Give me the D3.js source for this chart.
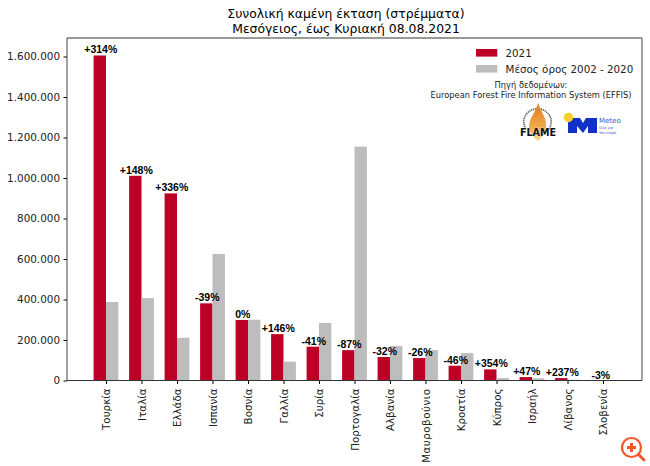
<!DOCTYPE html>
<html>
<head>
<meta charset="utf-8">
<script src="https://cdn.jsdelivr.net/npm/d3@7"></script>
<style>
body { margin: 0; background: #fff; }
text { font-family: "DejaVu Sans", sans-serif; }
</style>
</head>
<body>
<svg id="chart" width="650" height="466"></svg>
<script>
var countries = ["Τουρκία", "Ιταλία", "Ελλάδα", "Ισπανία", "Βοσνία", "Γαλλία", "Συρία", "Πορτογαλία", "Αλβανία", "Μαυροβούνιο", "Κροατία", "Κύπρος", "Ισραήλ", "Λίβανος", "Σλοβενία"]
var burned2021 = [1605000, 1011000, 924000, 381000, 299000, 229000, 167000, 150000, 116000, 111000, 73000, 55000, 17000, 12000, 0]
var burnedMean = [388000, 407000, 211000, 625000, 300000, 93000, 284000, 1155000, 170000, 150000, 135000, 12000, 11000, 3500, 500]
var changeLabels = ["+314%", "+148%", "+336%", "-39%", "0%", "+146%", "-41%", "-87%", "-32%", "-26%", "-46%", "+354%", "+47%", "+237%", "-3%"]
var yTicks = [0, 200000, 400000, 600000, 800000, 1000000, 1200000, 1400000, 1600000]

var dims = { left: 67, right: 642, top: 38, bottom: 380.5 }
var barWidth = 12.4

var svg = d3.select("#chart")

var xScale = d3.scalePoint()
               .domain(countries)
               .range([106, 603])

var yScale = d3.scaleLinear()
               .domain([0, 1600000])
               .range([dims.bottom, 56.5])

function greekNumber(d) {
    return d3.format(",")(d).replace(/,/g, ".")
}

// bars
svg.append("g")
   .selectAll("rect")
   .data(burned2021)
   .enter()
   .append("rect")
   .attr("x", (d, i) => xScale(countries[i]) - barWidth)
   .attr("y", d => yScale(d))
   .attr("width", barWidth)
   .attr("height", d => dims.bottom - yScale(d))
   .attr("fill", "#bd0026")

svg.append("g")
   .selectAll("rect")
   .data(burnedMean)
   .enter()
   .append("rect")
   .attr("x", (d, i) => xScale(countries[i]))
   .attr("y", d => yScale(d))
   .attr("width", barWidth)
   .attr("height", d => dims.bottom - yScale(d))
   .attr("fill", "#bdbdbd")

// percent labels over the red bars
svg.append("g")
   .selectAll("text")
   .data(changeLabels)
   .enter()
   .append("text")
   .attr("x", (d, i) => xScale(countries[i]) - barWidth / 2 + (countries[i] == "Σλοβενία" ? 4 : 1))
   .attr("y", (d, i) => yScale(burned2021[i]) - 2)
   .attr("text-anchor", "middle")
   .attr("font-size", "10.5px")
   .attr("font-weight", "bold")
   .style("font-family", "'Liberation Sans', Arial, sans-serif")
   .attr("fill", "black")
   .text(d => d)

// axes
var xAxis = svg.append("g")
               .attr("transform", `translate(0,${dims.bottom})`)
               .call(d3.axisBottom(xScale).tickSize(3.5).tickPadding(4))

xAxis.selectAll("text")
     .attr("transform", "rotate(-90)")
     .attr("text-anchor", "end")
     .attr("x", -8)
     .attr("y", 0)
     .attr("dy", "0.35em")
     .attr("font-size", "10.3px")
     .attr("fill", "#222")
     .style("letter-spacing", d => d == "Μαυροβούνιο" ? "0.5px" : null)

var yAxis = svg.append("g")
               .attr("transform", `translate(${dims.left},0)`)
               .call(d3.axisLeft(yScale).tickValues(yTicks).tickFormat(greekNumber).tickSize(3.5).tickPadding(3.5))

yAxis.selectAll("text")
     .attr("font-size", "10.4px")
     .attr("fill", "#222")

xAxis.select(".domain").remove()
yAxis.select(".domain").remove()

// frame, top and right come out lighter and thicker than left and bottom
var frame = [
    [dims.left, dims.top, dims.right, dims.top, "#777", 1.5],
    [dims.right, dims.top, dims.right, dims.bottom, "#888", 1.6],
    [dims.left, dims.top, dims.left, dims.bottom, "#444", 1],
    [dims.left, dims.bottom, dims.right, dims.bottom, "#333", 1]
]
svg.append("g")
   .selectAll("line")
   .data(frame)
   .enter()
   .append("line")
   .attr("x1", d => d[0])
   .attr("y1", d => d[1])
   .attr("x2", d => d[2])
   .attr("y2", d => d[3])
   .attr("stroke", d => d[4])
   .attr("stroke-width", d => d[5])

// title
svg.append("text")
   .attr("x", 346).attr("y", 18)
   .attr("text-anchor", "middle")
   .attr("font-size", "12.4px")
   .text("Συνολική καμένη έκταση (στρέμματα)")

svg.append("text")
   .attr("x", 346).attr("y", 33)
   .attr("text-anchor", "middle")
   .attr("font-size", "12.4px")
   .text("Μεσόγειος, έως Κυριακή 08.08.2021")

// legend
var legendItems = [["2021", "#bd0026", 49], ["Μέσος όρος 2002 - 2020", "#bdbdbd", 65]]
legendItems.forEach(function(item) {
    svg.append("rect")
       .attr("x", 476).attr("y", item[2])
       .attr("width", 21.3).attr("height", 7.6)
       .attr("fill", item[1])
    svg.append("text")
       .attr("x", 505.5).attr("y", item[2] + 7.5)
       .attr("font-size", "10.3px")
       .attr("fill", "#222")
       .text(item[0])
})

svg.append("text")
   .attr("x", 531).attr("y", 87.5)
   .attr("text-anchor", "middle")
   .attr("font-size", "8.3px")
   .attr("fill", "#222")
   .text("Πηγή δεδομένων:")

svg.append("text")
   .attr("x", 531).attr("y", 97.5)
   .attr("text-anchor", "middle")
   .attr("font-size", "8.3px")
   .attr("fill", "#222")
   .text("European Forest Fire Information System (EFFIS)")

// FLAME logo
var flameGradient = svg.append("defs")
                       .append("linearGradient")
                       .attr("id", "flameFill")
                       .attr("x1", 0).attr("y1", 0).attr("x2", 0).attr("y2", 1)
flameGradient.append("stop").attr("offset", "0%").attr("stop-color", "#e07a20")
flameGradient.append("stop").attr("offset", "60%").attr("stop-color", "#f0a848")
flameGradient.append("stop").attr("offset", "100%").attr("stop-color", "#f6d78e")

var flame = svg.append("g")
flame.append("path")
     .attr("d", "M526,129 A14,14 0 0 1 524,119 A14,14 0 0 1 551,119 A14,14 0 0 1 549,129")
     .attr("fill", "none")
     .attr("stroke", "#555")
     .attr("stroke-width", 1.6)
     .attr("stroke-dasharray", "1.2 0.8")
flame.append("path")
     .attr("d", "M538,103 C541,112 547,118 546,127 C546,133 542,137 538,141 C533,137 529,133 529,127 C529,118 536,112 538,103 Z")
     .attr("fill", "url(#flameFill)")
flame.append("text")
     .attr("x", 538).attr("y", 136)
     .attr("text-anchor", "middle")
     .attr("font-size", "9.6px")
     .attr("font-weight", "bold")
     .attr("fill", "#111")
     .attr("stroke", "#fff")
     .attr("stroke-width", 0.4)
     .attr("paint-order", "stroke")
     .text("FLAME")

// Meteo logo
var meteo = svg.append("g")
meteo.append("path")
     .attr("d", "M568,118 H580 L583,123 L586,118 H597 V133 H588 V126 L583,133 L577,126 V133 H568 Z")
     .attr("fill", "#1330c8")
meteo.append("circle")
     .attr("cx", 568.5).attr("cy", 117.5).attr("r", 4.7)
     .attr("fill", "#f5d02f")
meteo.append("text")
     .attr("x", 599).attr("y", 123)
     .attr("font-size", "7px")
     .attr("fill", "#3a55c8")
     .text("Meteo")
meteo.append("text")
     .attr("x", 599).attr("y", 129)
     .attr("font-size", "3.5px")
     .attr("fill", "#3a55c8")
     .text("Όλα για")
meteo.append("text")
     .attr("x", 599).attr("y", 133.5)
     .attr("font-size", "3.5px")
     .attr("fill", "#3a55c8")
     .text("τον καιρό")

// zoom badge, bottom right
var badge = svg.append("g").attr("fill", "none").attr("stroke", "#f4592a")
badge.append("circle")
     .attr("cx", 631.5).attr("cy", 447.5).attr("r", 9.5)
     .attr("stroke-width", 2.2)
badge.append("line")
     .attr("x1", 638.5).attr("y1", 454.5).attr("x2", 644).attr("y2", 460)
     .attr("stroke-width", 3)
     .attr("stroke-linecap", "round")
badge.append("path")
     .attr("d", "M627,447.5 H636 M631.5,443 V452")
     .attr("stroke-width", 3)
</script>
</body>
</html>
